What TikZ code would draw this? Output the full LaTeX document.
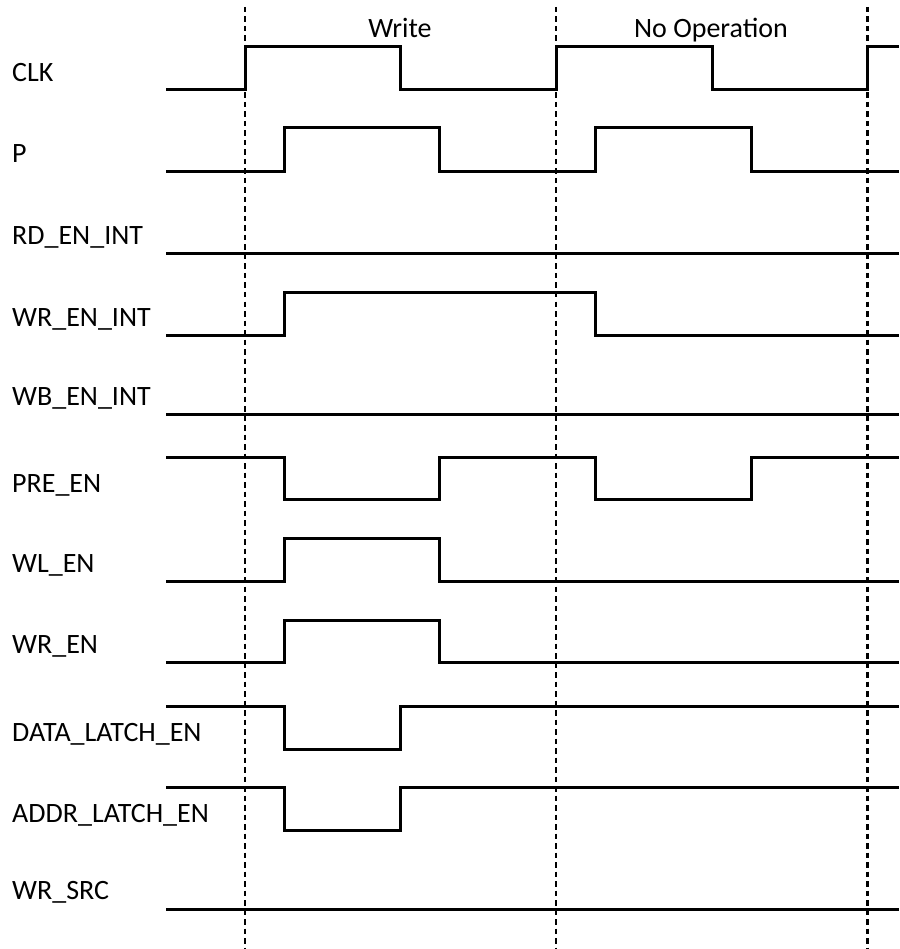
\documentclass[tikz,border=0pt]{standalone}
\usepackage{fontspec}
\setmainfont{Carlito}
\begin{document}
\begin{tikzpicture}[x=1pt,y=-1pt,
  wave/.style={line width=3pt, line join=miter, line cap=butt},
  cyc/.style={line width=2pt, dash pattern=on 5.5pt off 4pt},
  cycb/.style={line width=3pt, dash pattern=on 5.5pt off 4pt},
  lbl/.style={anchor=base west, inner sep=0pt, font=\fontsize{28}{32}\selectfont},
  ttl/.style={anchor=base, inner sep=0pt, font=\fontsize{28}{32}\selectfont}]
\useasboundingbox (0,0) rectangle (899,949);
% cycle boundaries
\coordinate (d1t) at (245,7); \coordinate (d1b) at (245,949);
\coordinate (d2t) at (556,7); \coordinate (d2b) at (556,949);
\coordinate (d3t) at (867,7); \coordinate (d3b) at (867,949);
\draw[cyc] (d1t) -- (d1b);
\draw[cyc] (d2t) -- (d2b);
\draw[cycb] (d3t) -- (d3b);
% titles
\node[ttl] (tw) at (400,38) {Write};
\node[ttl] (tn) at (711,38) {No Operation};
% labels
\node[lbl] (lclk) at (12,82) {CLK};
\node[lbl] (lp) at (12,163) {P};
\node[lbl] (lrd) at (12,245) {RD\_EN\_INT};
\node[lbl] (lwri) at (12,326) {WR\_EN\_INT};
\node[lbl] (lwb) at (12,405) {WB\_EN\_INT};
\node[lbl] (lpre) at (12,492) {PRE\_EN};
\node[lbl] (lwl) at (12,572) {WL\_EN};
\node[lbl] (lwr) at (12,653) {WR\_EN};
\node[lbl] (ldata) at (12,741) {DATA\_LATCH\_EN};
\node[lbl] (laddr) at (12,822) {ADDR\_LATCH\_EN};
\node[lbl] (lsrc) at (12,899) {WR\_SRC};
% waveforms
\draw[wave] (166,90) -- (245,90) -- (245,47) -- (400,47) -- (400,90) -- (556,90) -- (556,47) -- (712,47) -- (712,90) -- (867,90) -- (867,47) -- (899,47);
\draw[wave] (166,172) -- (284,172) -- (284,128) -- (439,128) -- (439,172) -- (595,172) -- (595,128) -- (751,128) -- (751,172) -- (899,172);
\draw[wave] (166,254) -- (899,254);
\draw[wave] (166,335) -- (284,335) -- (284,292) -- (595,292) -- (595,335) -- (899,335);
\draw[wave] (166,414) -- (899,414);
\draw[wave] (166,457) -- (284,457) -- (284,499) -- (439,499) -- (439,457) -- (595,457) -- (595,499) -- (751,499) -- (751,457) -- (899,457);
\draw[wave] (166,581) -- (284,581) -- (284,538) -- (439,538) -- (439,581) -- (899,581);
\draw[wave] (166,662) -- (284,662) -- (284,620) -- (439,620) -- (439,662) -- (899,662);
\draw[wave] (166,706) -- (284,706) -- (284,749) -- (400,749) -- (400,706) -- (899,706);
\draw[wave] (166,787) -- (284,787) -- (284,830) -- (400,830) -- (400,787) -- (899,787);
\draw[wave] (166,909) -- (899,909);
\end{tikzpicture}
\end{document}
